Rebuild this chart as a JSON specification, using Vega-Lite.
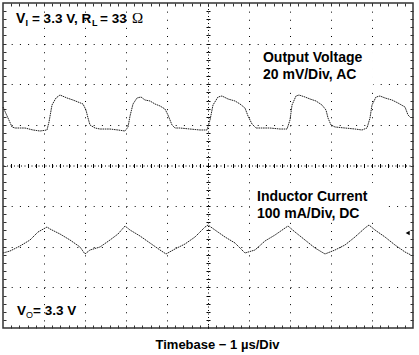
{
  "$schema": "https://vega.github.io/schema/vega-lite/v6.json",
  "width": 410,
  "height": 325,
  "autosize": {"type": "none"},
  "padding": {"left": 3, "top": 3, "right": 6, "bottom": 27},
  "background": "white",
  "config": {"view": {"stroke": "#333", "strokeWidth": 1.5}, "font": "Liberation Sans"},
  "datasets": {
    "out": [
      {"t":0.000,"v":5.440},{"t":0.122,"v":5.169},{"t":0.220,"v":4.948},{"t":0.293,"v":4.923},{"t":0.537,"v":4.923},{"t":0.732,"v":4.874},{"t":0.902,"v":4.849},{"t":1.073,"v":4.874},{"t":1.122,"v":5.071},{"t":1.195,"v":5.489},{"t":1.293,"v":5.662},{"t":1.390,"v":5.735},{"t":1.561,"v":5.662},{"t":1.707,"v":5.612},{"t":1.829,"v":5.563},{"t":1.951,"v":5.514},{"t":2.024,"v":5.366},{"t":2.073,"v":5.169},{"t":2.122,"v":4.997},{"t":2.244,"v":4.923},{"t":2.366,"v":4.898},{"t":2.610,"v":4.898},{"t":2.805,"v":4.874},{"t":2.976,"v":4.849},{"t":3.049,"v":4.948},{"t":3.098,"v":5.218},{"t":3.171,"v":5.514},{"t":3.268,"v":5.662},{"t":3.366,"v":5.686},{"t":3.463,"v":5.612},{"t":3.585,"v":5.588},{"t":3.707,"v":5.514},{"t":3.829,"v":5.465},{"t":3.951,"v":5.391},{"t":4.024,"v":5.243},{"t":4.122,"v":4.997},{"t":4.195,"v":4.923},{"t":4.317,"v":4.923},{"t":4.561,"v":4.898},{"t":4.805,"v":4.874},{"t":4.976,"v":4.874},{"t":5.049,"v":5.120},{"t":5.122,"v":5.489},{"t":5.244,"v":5.686},{"t":5.341,"v":5.711},{"t":5.488,"v":5.637},{"t":5.659,"v":5.588},{"t":5.780,"v":5.514},{"t":5.902,"v":5.415},{"t":5.976,"v":5.218},{"t":6.073,"v":5.022},{"t":6.171,"v":4.923},{"t":6.317,"v":4.923},{"t":6.512,"v":4.923},{"t":6.756,"v":4.898},{"t":6.927,"v":4.898},{"t":7.000,"v":5.120},{"t":7.049,"v":5.489},{"t":7.146,"v":5.711},{"t":7.220,"v":5.735},{"t":7.366,"v":5.686},{"t":7.488,"v":5.637},{"t":7.634,"v":5.588},{"t":7.780,"v":5.489},{"t":7.878,"v":5.366},{"t":7.927,"v":5.169},{"t":8.000,"v":4.997},{"t":8.098,"v":4.948},{"t":8.341,"v":4.923},{"t":8.585,"v":4.898},{"t":8.756,"v":4.874},{"t":8.878,"v":4.923},{"t":8.951,"v":5.169},{"t":9.000,"v":5.489},{"t":9.098,"v":5.686},{"t":9.195,"v":5.711},{"t":9.317,"v":5.662},{"t":9.488,"v":5.612},{"t":9.634,"v":5.538},{"t":9.805,"v":5.440},{"t":9.878,"v":5.243},{"t":9.951,"v":5.169}
    ],
    "ind": [
      {"t":0.000,"v":1.846},{"t":0.171,"v":1.895},{"t":0.415,"v":2.018},{"t":0.659,"v":2.166},{"t":0.854,"v":2.363},{"t":1.073,"v":2.486},{"t":1.146,"v":2.437},{"t":1.390,"v":2.314},{"t":1.634,"v":2.166},{"t":1.878,"v":1.994},{"t":2.000,"v":1.822},{"t":2.122,"v":1.920},{"t":2.366,"v":1.994},{"t":2.610,"v":2.166},{"t":2.805,"v":2.314},{"t":2.976,"v":2.511},{"t":3.098,"v":2.412},{"t":3.341,"v":2.265},{"t":3.585,"v":2.092},{"t":3.829,"v":1.920},{"t":3.976,"v":1.822},{"t":4.195,"v":1.945},{"t":4.439,"v":2.068},{"t":4.683,"v":2.240},{"t":4.927,"v":2.486},{"t":5.000,"v":2.535},{"t":5.171,"v":2.412},{"t":5.415,"v":2.240},{"t":5.659,"v":2.092},{"t":5.902,"v":1.846},{"t":6.146,"v":1.920},{"t":6.390,"v":2.142},{"t":6.634,"v":2.289},{"t":6.951,"v":2.511},{"t":7.122,"v":2.363},{"t":7.366,"v":2.166},{"t":7.610,"v":1.969},{"t":7.854,"v":1.822},{"t":8.098,"v":1.920},{"t":8.341,"v":2.043},{"t":8.585,"v":2.240},{"t":8.829,"v":2.462},{"t":8.927,"v":2.535},{"t":9.073,"v":2.412},{"t":9.317,"v":2.240},{"t":9.561,"v":2.043},{"t":9.805,"v":1.871},{"t":9.951,"v":1.797}
    ]
  },
  "resolve": {"axis": {"x": "independent", "y": "independent"}},
  "layer": [
    {
      "data": {"name": "out"},
      "mark": {"type": "line", "color": "#222", "strokeWidth": 1, "strokeDash": [1.6, 0.7]},
      "encoding": {
        "x": {"field": "t", "type": "quantitative", "scale": {"domain": [0, 10], "nice": false, "zero": false},
          "axis": {"orient": "bottom", "values": [1,2,3,4,6,7,8,9], "grid": true, "gridDash": [1, 7.125], "gridColor": "#000", "gridOpacity": 1, "domain": false, "ticks": false, "labels": false,
            "title": "Timebase − 1 µs/Div", "titleFont": "Liberation Sans", "titleFontSize": 13, "titleFontWeight": "bold", "titleColor": "#000", "titleX": 214, "titleY": 20, "titleAlign": "center", "titleBaseline": "alphabetic", "titleAnchor": null}},
        "y": {"field": "v", "type": "quantitative", "scale": {"domain": [0, 8], "nice": false, "zero": false},
          "axis": {"orient": "left", "values": [1,2,3,5,6,7], "grid": true, "gridDash": [1, 7.2], "gridColor": "#000", "gridOpacity": 1, "domain": false, "ticks": false, "labels": false, "title": null}}
      }
    },
    {
      "data": {"name": "ind"},
      "mark": {"type": "line", "color": "#222", "strokeWidth": 1, "strokeDash": [1.6, 0.7]},
      "encoding": {
        "x": {"field": "t", "type": "quantitative",
          "axis": {"orient": "bottom", "offset": -162.5, "values": [0.2,0.4,0.6,0.8,1,1.2,1.4,1.6,1.8,2,2.2,2.4,2.6,2.8,3,3.2,3.4,3.6,3.8,4,4.2,4.4,4.6,4.8,5,5.2,5.4,5.6,5.8,6,6.2,6.4,6.6,6.8,7,7.2,7.4,7.6,7.8,8,8.2,8.4,8.6,8.8,9,9.2,9.4,9.6,9.8],
            "grid": false, "domain": true, "domainDash": [1, 2.5], "domainColor": "#000", "domainWidth": 1, "ticks": true, "tickSize": 2, "tickColor": "#000", "labels": false, "title": null}},
        "y": {"field": "v", "type": "quantitative",
          "axis": {"orient": "left", "offset": -205, "values": [0.2,0.4,0.6,0.8,1,1.2,1.4,1.6,1.8,2,2.2,2.4,2.6,2.8,3,3.2,3.4,3.6,3.8,4,4.2,4.4,4.6,4.8,5,5.2,5.4,5.6,5.8,6,6.2,6.4,6.6,6.8,7,7.2,7.4,7.6,7.8],
            "grid": false, "domain": true, "domainDash": [1, 2.5], "domainColor": "#000", "domainWidth": 1, "ticks": true, "tickSize": 2, "tickColor": "#000", "labels": false, "title": null}}
      }
    },
    {
      "data": {"name": "ind"},
      "mark": {"type": "line", "opacity": 0},
      "encoding": {
        "x": {"field": "t", "type": "quantitative",
          "axis": {"orient": "top", "offset": -162.5, "values": [0.2,0.4,0.6,0.8,1,1.2,1.4,1.6,1.8,2,2.2,2.4,2.6,2.8,3,3.2,3.4,3.6,3.8,4,4.2,4.4,4.6,4.8,5,5.2,5.4,5.6,5.8,6,6.2,6.4,6.6,6.8,7,7.2,7.4,7.6,7.8,8,8.2,8.4,8.6,8.8,9,9.2,9.4,9.6,9.8],
            "grid": false, "domain": false, "ticks": true, "tickSize": 2, "tickColor": "#000", "labels": false, "title": null}},
        "y": {"field": "v", "type": "quantitative",
          "axis": {"orient": "right", "offset": -205, "values": [0.2,0.4,0.6,0.8,1,1.2,1.4,1.6,1.8,2,2.2,2.4,2.6,2.8,3,3.2,3.4,3.6,3.8,4,4.2,4.4,4.6,4.8,5,5.2,5.4,5.6,5.8,6,6.2,6.4,6.6,6.8,7,7.2,7.4,7.6,7.8],
            "grid": false, "domain": false, "ticks": true, "tickSize": 2, "tickColor": "#000", "labels": false, "title": null}}
      }
    },
    {
      "data": {"name": "out"},
      "mark": {"type": "line", "opacity": 0},
      "encoding": {
        "x": {"field": "t", "type": "quantitative",
          "axis": {"orient": "bottom", "offset": -325, "values": [0.2,0.4,0.6,0.8,1,1.2,1.4,1.6,1.8,2,2.2,2.4,2.6,2.8,3,3.2,3.4,3.6,3.8,4,4.2,4.4,4.6,4.8,5,5.2,5.4,5.6,5.8,6,6.2,6.4,6.6,6.8,7,7.2,7.4,7.6,7.8,8,8.2,8.4,8.6,8.8,9,9.2,9.4,9.6,9.8],
            "grid": false, "domain": false, "ticks": true, "tickSize": 3, "tickColor": "#333", "labels": false, "title": null}},
        "y": {"field": "v", "type": "quantitative",
          "axis": {"orient": "left", "offset": -410, "values": [0.2,0.4,0.6,0.8,1,1.2,1.4,1.6,1.8,2,2.2,2.4,2.6,2.8,3,3.2,3.4,3.6,3.8,4,4.2,4.4,4.6,4.8,5,5.2,5.4,5.6,5.8,6,6.2,6.4,6.6,6.8,7,7.2,7.4,7.6,7.8],
            "grid": false, "domain": false, "ticks": true, "tickSize": 3, "tickColor": "#333", "labels": false, "title": null}}
      }
    },
    {
      "data": {"name": "out"},
      "mark": {"type": "line", "opacity": 0},
      "encoding": {
        "x": {"field": "t", "type": "quantitative",
          "axis": {"orient": "top", "offset": -325, "values": [0.2,0.4,0.6,0.8,1,1.2,1.4,1.6,1.8,2,2.2,2.4,2.6,2.8,3,3.2,3.4,3.6,3.8,4,4.2,4.4,4.6,4.8,5,5.2,5.4,5.6,5.8,6,6.2,6.4,6.6,6.8,7,7.2,7.4,7.6,7.8,8,8.2,8.4,8.6,8.8,9,9.2,9.4,9.6,9.8],
            "grid": false, "domain": false, "ticks": true, "tickSize": 3, "tickColor": "#333", "labels": false, "title": null}},
        "y": {"field": "v", "type": "quantitative",
          "axis": {"orient": "right", "offset": -410, "values": [0.2,0.4,0.6,0.8,1,1.2,1.4,1.6,1.8,2,2.2,2.4,2.6,2.8,3,3.2,3.4,3.6,3.8,4,4.2,4.4,4.6,4.8,5,5.2,5.4,5.6,5.8,6,6.2,6.4,6.6,6.8,7,7.2,7.4,7.6,7.8],
            "grid": false, "domain": false, "ticks": true, "tickSize": 3, "tickColor": "#333", "labels": false, "title": null}}
      }
    },
    {
      "data": {"values": [{}]},
      "mark": {"type": "rect", "fill": "white"},
      "encoding": {
        "x": {"datum": 6.098, "type": "quantitative", "axis": null}, "x2": {"datum": 9.024},
        "y": {"datum": 5.932, "type": "quantitative", "axis": null}, "y2": {"datum": 6.944}
      }
    },
    {
      "data": {"values": [{}]},
      "mark": {"type": "rect", "fill": "white"},
      "encoding": {
        "x": {"datum": 6.024, "type": "quantitative", "axis": null}, "x2": {"datum": 9.268},
        "y": {"datum": 2.609, "type": "quantitative", "axis": null}, "y2": {"datum": 3.569}
      }
    },
    {
      "data": {"values": [{}]},
      "mark": {"type": "text", "text": ["Output Voltage", "20 mV/Div, AC"], "align": "left", "baseline": "alphabetic", "font": "Liberation Sans", "fontWeight": "bold", "fontSize": 14, "lineHeight": 17, "color": "#000"},
      "encoding": {"x": {"datum": 6.341, "type": "quantitative", "axis": null}, "y": {"datum": 6.548, "type": "quantitative", "axis": null}}
    },
    {
      "data": {"values": [{}]},
      "mark": {"type": "text", "text": ["Inductor Current", "100 mA/Div, DC"], "align": "left", "baseline": "alphabetic", "font": "Liberation Sans", "fontWeight": "bold", "fontSize": 14, "lineHeight": 17, "color": "#000"},
      "encoding": {"x": {"datum": 6.195, "type": "quantitative", "axis": null}, "y": {"datum": 3.126, "type": "quantitative", "axis": null}}
    },
    {
      "data": {"values": [{}]},
      "mark": {"type": "text", "text": "V", "align": "left", "baseline": "alphabetic", "font": "Liberation Sans", "fontWeight": "bold", "fontSize": 14, "color": "#000"},
      "encoding": {"x": {"datum": 0.317, "type": "quantitative", "axis": null}, "y": {"datum": 7.508, "type": "quantitative", "axis": null}}
    },
    {
      "data": {"values": [{}]},
      "mark": {"type": "text", "text": "I", "align": "left", "baseline": "alphabetic", "font": "Liberation Sans", "fontWeight": "bold", "fontSize": 9, "color": "#000"},
      "encoding": {"x": {"datum": 0.549, "type": "quantitative", "axis": null}, "y": {"datum": 7.434, "type": "quantitative", "axis": null}}
    },
    {
      "data": {"values": [{}]},
      "mark": {"type": "text", "text": "= 3.3 V, R", "align": "left", "baseline": "alphabetic", "font": "Liberation Sans", "fontWeight": "bold", "fontSize": 13.5, "color": "#000"},
      "encoding": {"x": {"datum": 0.707, "type": "quantitative", "axis": null}, "y": {"datum": 7.508, "type": "quantitative", "axis": null}}
    },
    {
      "data": {"values": [{}]},
      "mark": {"type": "text", "text": "L", "align": "left", "baseline": "alphabetic", "font": "Liberation Sans", "fontWeight": "bold", "fontSize": 9, "color": "#000"},
      "encoding": {"x": {"datum": 2.171, "type": "quantitative", "axis": null}, "y": {"datum": 7.434, "type": "quantitative", "axis": null}}
    },
    {
      "data": {"values": [{}]},
      "mark": {"type": "text", "text": "= 33", "align": "left", "baseline": "alphabetic", "font": "Liberation Sans", "fontWeight": "bold", "fontSize": 13.5, "color": "#000"},
      "encoding": {"x": {"datum": 2.366, "type": "quantitative", "axis": null}, "y": {"datum": 7.508, "type": "quantitative", "axis": null}}
    },
    {
      "data": {"values": [{}]},
      "mark": {"type": "text", "text": "Ω", "align": "left", "baseline": "alphabetic", "font": "Liberation Serif", "fontSize": 15, "color": "#000"},
      "encoding": {"x": {"datum": 3.146, "type": "quantitative", "axis": null}, "y": {"datum": 7.508, "type": "quantitative", "axis": null}}
    },
    {
      "data": {"values": [{}]},
      "mark": {"type": "text", "text": "V", "align": "left", "baseline": "alphabetic", "font": "Liberation Sans", "fontWeight": "bold", "fontSize": 13.5, "color": "#000"},
      "encoding": {"x": {"datum": 0.341, "type": "quantitative", "axis": null}, "y": {"datum": 0.320, "type": "quantitative", "axis": null}}
    },
    {
      "data": {"values": [{}]},
      "mark": {"type": "text", "text": "O", "align": "left", "baseline": "alphabetic", "font": "Liberation Sans", "fontSize": 9, "color": "#000"},
      "encoding": {"x": {"datum": 0.56, "type": "quantitative", "axis": null}, "y": {"datum": 0.246, "type": "quantitative", "axis": null}}
    },
    {
      "data": {"values": [{}]},
      "mark": {"type": "text", "text": "= 3.3 V", "align": "left", "baseline": "alphabetic", "font": "Liberation Sans", "fontWeight": "bold", "fontSize": 13.5, "color": "#000"},
      "encoding": {"x": {"datum": 0.732, "type": "quantitative", "axis": null}, "y": {"datum": 0.320, "type": "quantitative", "axis": null}}
    },
    {
      "data": {"values": [{}]},
      "mark": {"type": "point", "shape": "triangle-left", "filled": true, "size": 22, "color": "#000", "opacity": 1},
      "encoding": {"x": {"datum": 9.87, "type": "quantitative", "axis": null}, "y": {"datum": 2.338, "type": "quantitative", "axis": null}}
    }
  ]
}
